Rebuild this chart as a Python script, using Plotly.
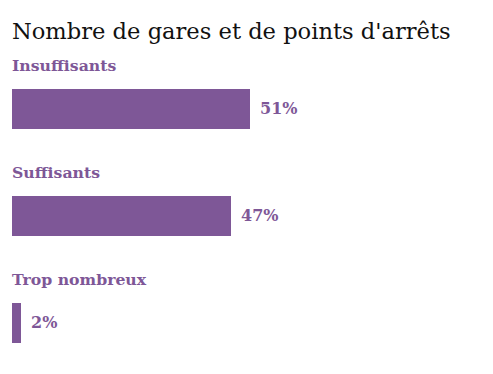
import plotly.graph_objects as go

categories = ["Insuffisants", "Suffisants", "Trop nombreux"]
values = [51, 47, 2]
value_labels = ["51%", "47%", "2%"]

color = "#7e5797"
ypos = list(range(len(categories)))

fig = go.Figure()
fig.add_trace(go.Bar(
    x=values, y=ypos, orientation="h", width=0.374,
    marker=dict(color=color, line=dict(width=0)),
    hoverinfo="skip",
))

for i, (cat, v, lab) in enumerate(zip(categories, values, value_labels)):
    fig.add_annotation(x=0, y=i, xref="x", yref="y", text=f"<b>{cat}</b>",
                       showarrow=False, xanchor="left", yanchor="middle", yshift=43, xshift=-2,
                       font=dict(family="DejaVu Serif", size=15.7, color=color))
    fig.add_annotation(x=v, y=i, xref="x", yref="y", text=f"<b>{lab}</b>",
                       showarrow=False, xanchor="left", yanchor="middle", xshift=8,
                       font=dict(family="DejaVu Serif", size=16, color=color))

fig.update_layout(
    width=485, height=366,
    margin=dict(l=4, r=0, t=48, b=0),
    paper_bgcolor="white", plot_bgcolor="white",
    title=dict(text="Nombre de gares et de points d'arrêts", x=4/485, xanchor="left",
               y=1-23/366, yanchor="middle",
               font=dict(family="DejaVu Serif", size=22.6, color="#111111")),
    xaxis=dict(range=[0, 103], visible=False, fixedrange=True),
    yaxis=dict(range=[2.477, -0.495], visible=False, fixedrange=True),
    showlegend=False,
    bargap=0,
)

fig.write_html("out.html")
